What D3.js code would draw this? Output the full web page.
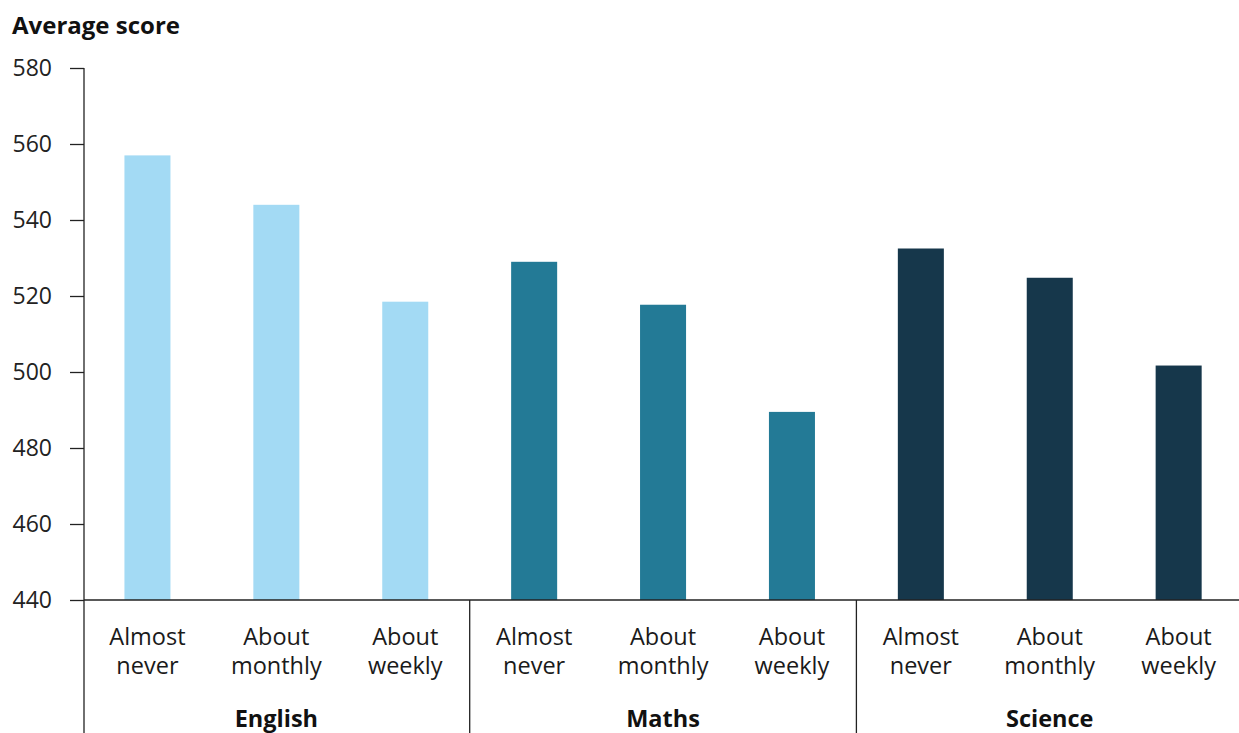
<!DOCTYPE html>
<html>
<head>
<meta charset="utf-8">
<script src="https://cdn.jsdelivr.net/npm/d3@7"></script>
<style>
  html, body { margin: 0; padding: 0; background: #fff; }
  svg { display: block; font-family: "Open Sans", "Noto Sans", sans-serif; }
</style>
</head>
<body>
<svg id="chart" width="1239" height="733"></svg>
<script>
const groups = ["English", "Maths", "Science"];
const categories = [["Almost", "never"], ["About", "monthly"], ["About", "weekly"]];
const englishValues = [557, 544, 518.5];
const mathsValues = [529, 517.7, 489.5];
const scienceValues = [532.5, 524.8, 501.7];
const yTicks = [440, 460, 480, 500, 520, 540, 560, 580];
const groupColors = ["#a3daf4", "#237a96", "#16374b"];

const seriesValues = [englishValues, mathsValues, scienceValues];
const data = [];
groups.forEach((g, gi) => {
  categories.forEach((c, ci) => {
    data.push({ key: g + "|" + ci, group: g, gi, cat: c, value: seriesValues[gi][ci] });
  });
});

const svg = d3.select("#chart");
const W = 1239, H = 733;
const axisX = 84;
const y = d3.scaleLinear().domain([440, 580]).range([600, 68]);
const x = d3.scaleBand()
  .domain(data.map(d => d.key))
  .range([83, 1243.1])
  .paddingInner(0.643)
  .paddingOuter(0.3215);
const step = x.step();

// Title
svg.append("text")
  .attr("x", 12).attr("y", 34)
  .attr("font-size", 24).attr("font-weight", 700)
  .attr("fill", "#111")
  .text("Average score");

// Bars
svg.append("g").selectAll("rect")
  .data(data).join("rect")
  .attr("x", d => x(d.key))
  .attr("width", x.bandwidth())
  .attr("y", d => y(d.value))
  .attr("height", d => y(440) - y(d.value))
  .attr("fill", d => groupColors[d.gi]);

// Y axis
const yAxis = d3.axisLeft(y).tickValues(yTicks).tickSize(14).tickPadding(18).tickSizeOuter(0);
const yg = svg.append("g").attr("transform", `translate(${axisX},0)`).call(yAxis);
yg.select(".domain").remove();
yg.selectAll(".tick line").attr("stroke", "#222").attr("stroke-width", 1.3);
yg.selectAll(".tick text")
  .attr("font-size", 23).attr("fill", "#222")
  .attr("font-family", "'Open Sans', 'Noto Sans', sans-serif");

// Vertical axis line, extends down through the label area
svg.append("line")
  .attr("x1", axisX).attr("x2", axisX)
  .attr("y1", y(580)).attr("y2", H)
  .attr("stroke", "#222").attr("stroke-width", 1.3);

// Baseline
svg.append("line")
  .attr("x1", axisX).attr("x2", W)
  .attr("y1", y(440)).attr("y2", y(440))
  .attr("stroke", "#222").attr("stroke-width", 1.3);

// Group separators (at band boundaries between groups)
[1, 2].forEach(i => {
  const key = groups[i] + "|0";
  const sx = x(key) + x.bandwidth() / 2 - step / 2;
  svg.append("line")
    .attr("x1", sx).attr("x2", sx)
    .attr("y1", y(440)).attr("y2", H)
    .attr("stroke", "#222").attr("stroke-width", 1.3);
});

// Category labels
const labG = svg.append("g");
data.forEach(d => {
  const cx = x(d.key) + x.bandwidth() / 2;
  const t = labG.append("text")
    .attr("text-anchor", "middle")
    .attr("font-size", 23.5)
    .attr("fill", "#1a1a1a");
  t.append("tspan").attr("x", cx).attr("y", 645).text(d.cat[0]);
  t.append("tspan").attr("x", cx).attr("y", 674).text(d.cat[1]);
});

// Group labels
groups.forEach((g, gi) => {
  const mid = x(g + "|1") + x.bandwidth() / 2;
  svg.append("text")
    .attr("x", mid).attr("y", 727)
    .attr("text-anchor", "middle")
    .attr("font-size", 23.5).attr("font-weight", 700)
    .attr("fill", "#111")
    .text(g);
});
</script>
</body>
</html>
